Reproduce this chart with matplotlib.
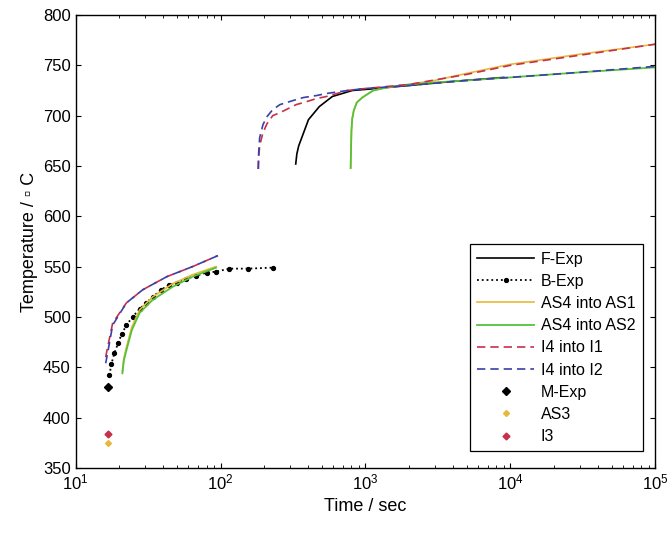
import matplotlib
matplotlib.use("Agg")
import matplotlib.pyplot as plt
from matplotlib.lines import Line2D

plt.rcParams['font.family'] = ['Liberation Sans', 'DejaVu Sans']

# F-Exp (solid black, upper branch)
f_t = [330, 336, 346, 363, 404, 480, 590, 810, 1200, 2000, 4000, 9000]
f_T = [652, 662, 670, 678, 696, 709, 719, 725, 727, 730, 734, 738]

# B-Exp (dotted with markers, lower branch)
b_t = [17.1, 17.6, 18.5, 19.6, 20.8, 22.4, 24.7, 27.6, 30.7, 34, 39, 44, 50, 58, 68, 80, 93, 115, 154, 229]
b_T = [442, 453, 464, 474, 483, 492, 500, 508, 514, 520, 527, 532, 534, 538, 541, 544, 545, 548, 548, 549]

# AS4 into AS1 / AS2, lower branch
as_lo_t = [21, 21.5, 22.4, 24.4, 27.6, 34, 46.7, 64, 93]
as1_lo_T = [446, 459, 470, 490, 507, 520, 533, 542, 550]
as2_lo_T = [444, 457, 467, 487, 504, 517, 530, 540, 549]

# AS4 into AS1 / AS2, upper branch
as_up_t = [790, 795, 800, 810, 830, 870, 950, 1130, 1400, 2000, 3000, 5000, 10000, 30000, 100000]
as1_up_T = [648, 668, 685, 697, 705, 713, 718, 725, 728, 731, 735, 742, 751, 761, 771]
as2_up_T = [648, 668, 685, 697, 705, 713, 718, 725, 728, 731, 733, 735, 738, 743, 748]

# I4 into I1 / I2, lower branch
i_lo_t = [16.1, 16.5, 18, 22.4, 29, 42.5, 64, 96]
i1_lo_T = [460, 468, 494, 514, 527, 540, 550, 561]
i2_lo_T = [454, 462, 492, 514, 527, 540, 550, 561]

# I4 into I1 / I2, upper branch
i_up_t = [182, 183, 186, 196, 209, 229, 257, 333, 373, 460, 537, 750, 1000, 2000, 5000, 10000, 30000, 100000]
i1_up_T = [647, 658, 670, 683, 692, 700, 703, 711, 713, 717, 719, 725, 727, 731, 741, 750, 760, 771]
i2_up_T = [647, 662, 678, 691, 699, 706, 711, 716, 718, 720, 722, 725, 727, 730, 735, 738, 743, 749]

# single points
m_t, m_T = [16.6], [430]
as3_t, as3_T = [16.6], [375]
i3_t, i3_T = [16.6], [384]

c_yel = '#e8b83a'
c_grn = '#55c23a'
c_red = '#c8304a'
c_blu = '#3a40a8'
dash = (0, (5, 3))

fig, ax = plt.subplots(figsize=(6.7, 5.36), dpi=100)
fig.subplots_adjust(left=0.113, right=0.978, top=0.972, bottom=0.127)

ax.plot(f_t, f_T, color='black', lw=1.2)
ax.plot(b_t, b_T, color='black', ls=':', lw=1.3, marker='o', ms=2.8)
ax.plot(as_lo_t, as1_lo_T, color=c_yel, lw=1.2)
ax.plot(as_up_t, as1_up_T, color=c_yel, lw=1.2)
ax.plot(as_lo_t, as2_lo_T, color=c_grn, lw=1.3)
ax.plot(as_up_t, as2_up_T, color=c_grn, lw=1.3)
ax.plot(i_lo_t, i1_lo_T, color=c_red, lw=1.2, ls=dash)
ax.plot(i_up_t, i1_up_T, color=c_red, lw=1.2, ls=dash)
ax.plot(i_lo_t, i2_lo_T, color=c_blu, lw=1.2, ls=dash)
ax.plot(i_up_t, i2_up_T, color=c_blu, lw=1.2, ls=dash)
ax.plot(m_t, m_T, 'D', color='black', ms=4)
ax.plot(as3_t, as3_T, 'D', color=c_yel, ms=3)
ax.plot(i3_t, i3_T, 'D', color=c_red, ms=3.5)

ax.set_xscale('log')
ax.set_xlim(10, 1e5)
ax.set_ylim(350, 800)
ax.set_yticks(range(350, 801, 50))
ax.set_xlabel('Time / sec', fontsize=13)
ax.set_ylabel('Temperature / \u25ab C', fontsize=13)
ax.tick_params(which='both', direction='in', top=True, right=True, labelsize=12)
for sp in ax.spines.values():
    sp.set_linewidth(1.0)

handles = [
    Line2D([], [], color='black', lw=1.2),
    Line2D([], [], color='black', ls=':', lw=1.3, marker='o', ms=2.8, markevery=[1]),
    Line2D([], [], color=c_yel, lw=1.2),
    Line2D([], [], color=c_grn, lw=1.3),
    Line2D([], [], color=c_red, lw=1.2, ls=dash),
    Line2D([], [], color=c_blu, lw=1.2, ls=dash),
    Line2D([], [], color='black', marker='D', ls='none', ms=4),
    Line2D([], [], color=c_yel, marker='D', ls='none', ms=3),
    Line2D([], [], color=c_red, marker='D', ls='none', ms=3.5),
]
labels = ['F-Exp', 'B-Exp', 'AS4 into AS1', 'AS4 into AS2', 'I4 into I1',
          'I4 into I2', 'M-Exp', 'AS3', 'I3']
leg = ax.legend(handles, labels, loc='lower right', bbox_to_anchor=(0.992, 0.019),
                fontsize=11.5, fancybox=False, edgecolor='black', framealpha=1,
                handlelength=3.6, labelspacing=0.45, borderpad=0.45, handletextpad=0.4)
leg.get_frame().set_linewidth(0.9)

plt.savefig('out.png', dpi=100)
